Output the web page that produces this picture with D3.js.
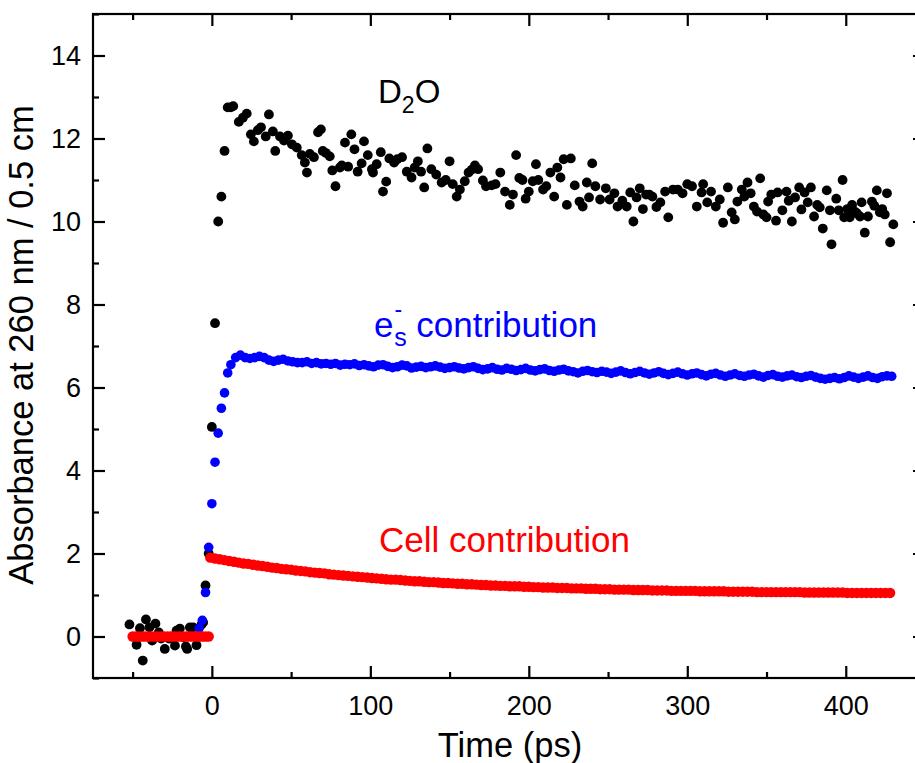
<!DOCTYPE html>
<html><head><meta charset="utf-8">
<script src="https://cdn.jsdelivr.net/npm/d3@7"></script>
<style>body{margin:0;background:#fff}</style>
</head><body>
<svg id="c" width="915" height="763"></svg>
<script>
// ---- D2O (black) measured absorbance ----
const d2oTime = [
 -52,-47.5,-45.4,-43.6,-41.6,-39.4,-37.7,-35.6,-33.5,-32,
 -29.7,-27,-23.3,-22.3,-20.2,-18.1,-16.4,-15.6,-13.9,-11.8,
 -9.7,-8.6,-6.5,-5.5,-4,-2,0,2,4,6,
 8,10,12,13.5,17,19.6,22,24.6,26.5,29,
 31,34,36,38.5,40,43,45.5,48,50.5,53.6,
 56.7,58.7,60,61.8,64.4,67,68.8,70,72,74.4,
 76,78,80.8,82,84,86,88,90,92,94.5,
 96,98.4,101,101.7,104,106.6,108,110,112,115,
 117,120,123,126,128,130,132,134,136,138.5,
 141.6,145,147.6,150,152,154.5,156.5,159.6,162,164,
 166,168,171,173,176.6,179,182,185,188,190,
 192,194,196,198,200,202.5,204.5,206,209,211,
 213.6,216,218,220,222,224,226.5,229,232,234,
 236.6,238,240,242,245,248.6,251,254,256,259,
 261.8,264,266,268,270,272,274,276,278,280.5,
 283,286,288,291,294,297,300,303,306,309,
 310,312.6,315,318,320.5,322.6,325.6,328,330,331.6,
 334.4,336,338,340,342,344,346,348,350,351,
 353,356,357,360,362.6,364,366,368,370.6,372,
 374,376,378,380,382,383.6,385.5,388,390,391,
 394,395.6,398,399,401,402.5,404,405.6,407,409,
 410,412,414,416.5,418,419.6,421.5,423,424.6,426,
 428,430];
const d2oAbs = [
 0.29,-0.2,0.2,-0.58,0.41,0.22,-0.1,0.31,0.1,-0.05,
 -0.3,-0.05,-0.22,0.14,0.19,-0.02,-0.24,-0.3,0.22,0.22,
 -0.21,0,0.29,0.34,1.23,2.0,5.05,7.55,10.0,10.6,
 11.7,12.75,12.75,12.78,12.4,12.5,12.6,12.1,11.93,12.2,
 12.27,12.05,12.58,12.17,11.7,12.05,11.95,12.07,11.86,11.78,
 11.6,11.42,11.18,11.63,11.55,12.15,12.22,11.7,11.65,11.57,
 11.23,10.85,11.3,11.35,11.9,11.32,12.1,11.74,11.2,11.4,
 11.93,11.6,11.26,11.18,11.38,11.67,10.72,10.96,11.52,11.42,
 11.5,11.55,11.2,11.06,11.3,11.45,11.2,10.82,11.76,11.26,
 11.13,10.94,11.0,11.45,10.9,10.6,10.77,10.97,11.18,11.25,
 11.35,11.26,10.99,10.85,10.87,10.9,11.18,10.72,10.4,10.65,
 11.6,11.05,11.0,10.55,10.72,10.97,11.38,11.0,10.77,10.85,
 11.18,10.6,11.3,11.06,11.5,10.4,11.52,10.87,10.48,10.36,
 10.94,10.58,11.4,10.85,10.53,10.8,10.53,10.68,10.36,10.5,
 10.36,10.7,10.0,10.58,10.8,10.3,10.65,10.65,10.6,10.35,
 10.46,10.72,10.1,10.77,10.77,10.68,10.9,10.85,10.36,10.7,
 10.9,10.46,10.72,10.36,10.53,9.97,10.82,10.22,10.05,10.48,
 10.77,10.6,10.94,10.68,10.36,10.24,11.04,10.17,10.1,10.48,
 10.65,10.02,10.7,10.27,10.72,10.5,10.0,10.58,10.82,10.29,
 10.7,10.46,10.82,10.12,10.4,10.34,9.83,10.75,10.27,9.45,
 10.55,10.27,11.0,10.1,10.3,10.1,10.4,10.24,10.2,10.12,
 10.46,9.73,10.12,10.48,10.38,10.75,10.22,10.3,10.17,10.68,
 9.5,9.93];

// ---- solvated electron contribution (blue) ----
const esRiseTime = [-8,-6,-4,-2,0,2,4,6,8,10];
const esRiseAbs  = [0.2,0.39,1.06,2.15,3.2,4.2,4.9,5.5,5.87,6.35];
const esTimeStep = 3;          // sampling of the plateau, from 12 ps
const esPlateauAbs = [
 6.55,6.72,6.78,6.72,6.70,6.72,6.75,6.72,6.66,6.63,
 6.66,6.68,6.64,6.62,6.60,6.60,6.62,6.58,6.60,6.57,
 6.58,6.56,6.58,6.54,6.56,6.55,6.57,6.53,6.55,6.52,
 6.50,6.54,6.55,6.51,6.48,6.50,6.54,6.52,6.47,6.49,
 6.51,6.48,6.50,6.52,6.49,6.46,6.48,6.50,6.47,6.45,
 6.48,6.50,6.46,6.43,6.45,6.48,6.44,6.42,6.46,6.44,
 6.41,6.43,6.46,6.42,6.40,6.43,6.45,6.41,6.39,6.42,
 6.44,6.40,6.38,6.35,6.39,6.41,6.38,6.36,6.39,6.37,
 6.34,6.37,6.40,6.36,6.33,6.36,6.39,6.35,6.32,6.35,
 6.38,6.34,6.31,6.34,6.37,6.33,6.30,6.33,6.35,6.31,
 6.28,6.32,6.34,6.30,6.27,6.30,6.33,6.29,6.27,6.30,
 6.32,6.28,6.25,6.29,6.31,6.27,6.25,6.28,6.30,6.26,
 6.24,6.27,6.29,6.25,6.22,6.20,6.22,6.24,6.21,6.24,
 6.28,6.25,6.22,6.25,6.28,6.24,6.22,6.26,6.28,6.27];

// ---- cell contribution (red) ----
const cellPreAbs = [0,0,0,0,0,0,0,0,0,0,0,0,0,0,0,0,0,0,0,0,0,0,0,0,0]; // -50 .. -2 ps, step 2
const cellPostAbs = [
 1.90,1.88,1.86,1.84,1.82,1.80,1.78,1.76,1.75,1.73,
 1.71,1.70,1.68,1.66,1.65,1.63,1.62,1.61,1.59,1.58,
 1.57,1.55,1.54,1.53,1.52,1.50,1.49,1.48,1.47,1.46,
 1.45,1.44,1.43,1.42,1.41,1.40,1.39,1.38,1.37,1.37,
 1.36,1.35,1.34,1.33,1.33,1.32,1.31,1.31,1.30,1.29,
 1.29,1.28,1.27,1.27,1.26,1.26,1.25,1.24,1.24,1.23,
 1.23,1.22,1.22,1.21,1.21,1.21,1.20,1.20,1.19,1.19,
 1.18,1.18,1.18,1.17,1.17,1.17,1.16,1.16,1.16,1.15,
 1.15,1.15,1.14,1.14,1.14,1.13,1.13,1.13,1.13,1.12,
 1.12,1.12,1.12,1.11,1.11,1.11,1.11,1.10,1.10,1.10,
 1.10,1.10,1.10,1.09,1.09,1.09,1.09,1.09,1.09,1.08,
 1.08,1.08,1.08,1.08,1.08,1.07,1.07,1.07,1.07,1.07,
 1.07,1.07,1.07,1.07,1.07,1.06,1.06,1.06,1.06,1.06,
 1.06,1.06,1.06,1.06,1.05,1.05,1.05,1.05,1.05,1.05,
 1.05,1.05,1.05,1.05]; // -1 .. 428 ps, step 3

// ---- axes ----
const xMajor = [0,100,200,300,400];
const xMinor = [-50,50,150,250,350,450];
const yMajor = [0,2,4,6,8,10,12,14];
const yMinor = [-1,1,3,5,7,9,11,13,15];
const xTitle = "Time (ps)";
const yTitle = "Absorbance at 260 nm / 0.5 cm";

// ---- build series ----
const d2o = d2oTime.map((t,i)=>({t, v:d2oAbs[i]}));
const es = esRiseTime.map((t,i)=>({t, v:esRiseAbs[i]}))
  .concat(esPlateauAbs.map((v,i)=>({t: 12 + i*esTimeStep, v})));
const cell = cellPreAbs.map((v,i)=>({t:-50 + i*2, v}))
  .concat(cellPostAbs.map((v,i)=>({t:-1 + i*3, v})));

const svg = d3.select("#c");
const FONT = "'Liberation Sans', Arial, Helvetica, sans-serif";
const L = 93, R = 925, T = 14, B = 678;
const x = d3.scaleLinear().domain([-75,450]).range([L,R]);
const y = d3.scaleLinear().domain([-1,15]).range([B,T]);

const plot = svg.append("g");
function dots(data, color, r){
  plot.append("g").selectAll("circle").data(data).join("circle")
    .attr("cx", d=>x(d.t)).attr("cy", d=>y(d.v)).attr("r", r).attr("fill", color);
}
dots(d2o, "#000000", 4.9);
dots(es, "#0000ff", 4.8);
dots(cell, "#ff0000", 5.2);

// axes
const AX = 2.2;
function styleAxis(g, labels){
  g.select(".domain").remove();
  g.selectAll(".tick line").attr("stroke","#000").attr("stroke-width",AX);
  if (labels) g.selectAll(".tick text").attr("font-family",FONT).attr("font-size",27).attr("fill","#000");
  else g.selectAll(".tick text").remove();
}
const gb = svg.append("g").attr("transform",`translate(0,${B})`)
  .call(d3.axisBottom(x).tickValues(xMajor).tickSize(-12).tickPadding(18).tickFormat(d3.format("d")));
styleAxis(gb, true);
const gbm = svg.append("g").attr("transform",`translate(0,${B})`)
  .call(d3.axisBottom(x).tickValues(xMinor).tickSize(-6).tickFormat(""));
styleAxis(gbm, false);
const gt = svg.append("g").attr("transform",`translate(0,${T})`)
  .call(d3.axisTop(x).tickValues(xMajor).tickSize(-12).tickFormat(""));
styleAxis(gt, false);
const gtm = svg.append("g").attr("transform",`translate(0,${T})`)
  .call(d3.axisTop(x).tickValues(xMinor).tickSize(-6).tickFormat(""));
styleAxis(gtm, false);
const gl = svg.append("g").attr("transform",`translate(${L},0)`)
  .call(d3.axisLeft(y).tickValues(yMajor).tickSize(-12).tickPadding(12).tickFormat(d3.format("d")));
styleAxis(gl, true);
const glm = svg.append("g").attr("transform",`translate(${L},0)`)
  .call(d3.axisLeft(y).tickValues(yMinor).tickSize(-6).tickFormat(""));
styleAxis(glm, false);
const gr = svg.append("g").attr("transform",`translate(${R},0)`)
  .call(d3.axisRight(y).tickValues(yMajor).tickSize(-12).tickFormat(""));
styleAxis(gr, false);
const grm = svg.append("g").attr("transform",`translate(${R},0)`)
  .call(d3.axisRight(y).tickValues(yMinor).tickSize(-6).tickFormat(""));
styleAxis(grm, false);

svg.append("rect").attr("x",L).attr("y",T).attr("width",R-L).attr("height",B-T)
  .attr("fill","none").attr("stroke","#000").attr("stroke-width",AX);

// titles
svg.append("text").attr("x",510).attr("y",757).attr("text-anchor","middle")
  .attr("font-family",FONT).attr("font-size",34.5).text(xTitle);
svg.append("text").attr("transform","translate(33,345) rotate(-90)").attr("text-anchor","middle")
  .attr("font-family",FONT).attr("font-size",34.5).text(yTitle);

// annotations
const d2oLab = svg.append("text").attr("x",378).attr("y",103).attr("font-family",FONT).attr("font-size",33).attr("fill","#000");
d2oLab.append("tspan").text("D");
d2oLab.append("tspan").attr("font-size",23).attr("dy",10).text("2");
d2oLab.append("tspan").attr("dy",-10).text("O");

const esLab = svg.append("text").attr("x",374).attr("y",337).attr("font-family",FONT).attr("font-size",35).attr("fill","#0000ff");
esLab.append("tspan").text("e");
esLab.append("tspan").attr("font-size",23).attr("dx",1).attr("dy",-20).text("-");
esLab.append("tspan").attr("font-size",25).attr("dx",-8).attr("dy",29).text("s");
esLab.append("tspan").attr("dy",-9).text(" contribution");

svg.append("text").attr("x",379).attr("y",552).attr("font-family",FONT).attr("font-size",35)
  .attr("fill","#ff0000").text("Cell contribution");
</script>
</body></html>
